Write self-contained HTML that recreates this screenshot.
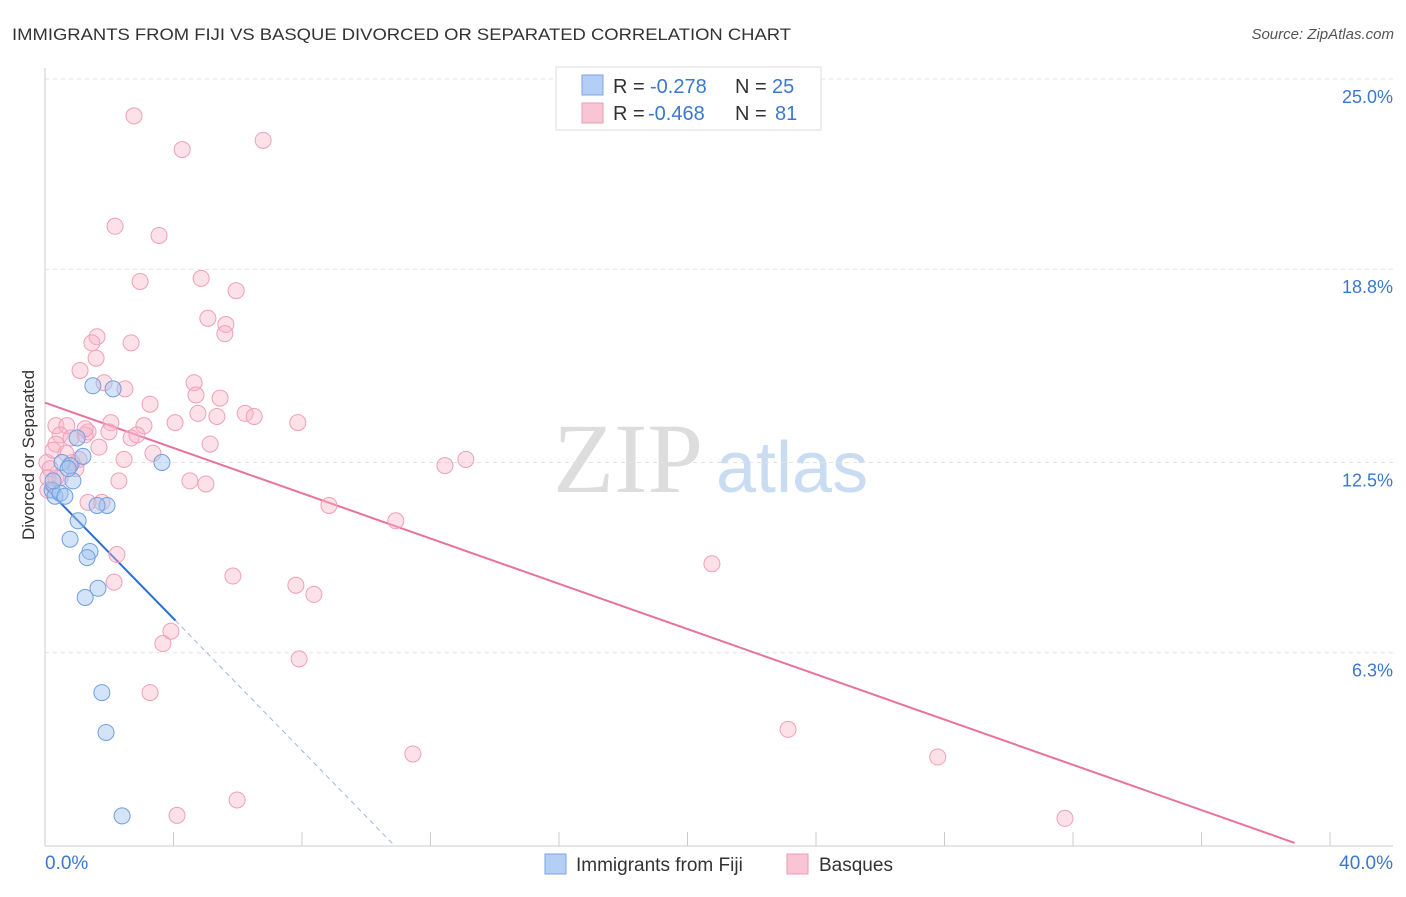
<!DOCTYPE html>
<html><head><meta charset="utf-8"><style>
body{margin:0;background:#fff;font-family:"Liberation Sans",sans-serif;}
</style></head><body>
<svg width="1406" height="892" xmlns="http://www.w3.org/2000/svg" font-family="Liberation Sans, sans-serif" id="chart">
<text x="12" y="40" font-size="17" fill="#333" textLength="779" lengthAdjust="spacingAndGlyphs">IMMIGRANTS FROM FIJI VS BASQUE DIVORCED OR SEPARATED CORRELATION CHART</text>
<text x="1394" y="39" font-size="15" fill="#555" font-style="italic" text-anchor="end">Source: ZipAtlas.com</text>
<text x="553" y="492" font-size="100" fill="#ddd" font-family="Liberation Serif, serif">ZIP</text>
<text x="716" y="492" font-size="72" fill="#c9dcf2">atlas</text>
<g id="grid"></g><g id="axes"></g><g id="lines"></g><g id="pts"></g>
<text x="34" y="455" font-size="17" fill="#333" text-anchor="middle" transform="rotate(-90 34 455)">Divorced or Separated</text>
<g>
<rect x="556" y="67" width="265" height="63" fill="#fff" stroke="#ddd"/>
<rect x="582" y="75" width="21" height="20" fill="#b3cff5" stroke="#7aa6e0"/>
<rect x="582" y="103" width="21" height="20" fill="#f9c5d4" stroke="#ec9ab3"/>
<text x="613" y="93" font-size="20" fill="#333">R =</text><text x="650" y="93" font-size="20" fill="#3a78d0">-0.278</text>
<text x="735" y="93" font-size="20" fill="#333">N =</text><text x="772" y="93" font-size="20" fill="#3a78d0">25</text>
<text x="613" y="120" font-size="20" fill="#333">R =</text><text x="648" y="120" font-size="20" fill="#3a78d0">-0.468</text>
<text x="735" y="120" font-size="20" fill="#333">N =</text><text x="775" y="120" font-size="20" fill="#3a78d0">81</text>
</g>
<g>
<rect x="545" y="854" width="21" height="20" fill="#b3cff5" stroke="#7aa6e0"/>
<text x="576" y="871" font-size="19" fill="#333">Immigrants from Fiji</text>
<rect x="787" y="854" width="21" height="20" fill="#f9c5d4" stroke="#ec9ab3"/>
<text x="819" y="871" font-size="19" fill="#333">Basques</text>
</g>
</svg>
<script>
const yTicks=[6.3,12.5,18.8,25.0];
const yTickLabels=["6.3%","12.5%","18.8%","25.0%"];
const fijiX=[0.22,0.31,0.47,0.62,0.53,0.78,1.00,0.87,1.18,1.49,2.12,1.93,1.62,1.03,0.78,1.40,1.31,1.65,1.25,3.64,1.77,1.90,2.40,0.25,0.72];
const fijiY=[11.6,11.4,11.5,11.4,12.5,12.4,13.3,11.9,12.7,15.0,14.9,11.1,11.1,10.6,10.0,9.6,9.4,8.4,8.1,12.5,5.0,3.7,0.98,11.9,12.3];
const basqX=[2.77,4.27,6.79,2.18,3.55,2.96,4.86,5.95,5.07,5.63,5.60,1.62,2.68,1.46,1.59,1.09,4.64,1.84,2.49,3.27,4.70,5.45,4.76,5.35,6.23,6.51,7.87,2.05,3.08,4.05,0.34,0.68,1.34,0.47,0.81,1.25,2.68,2.86,0.34,5.14,3.36,2.46,1.06,0.06,0.16,0.96,0.09,0.47,4.51,5.01,2.30,12.45,13.10,1.34,1.77,8.84,10.92,2.24,5.85,7.81,8.37,20.76,2.15,3.92,3.67,7.91,3.27,23.13,11.45,27.79,5.98,4.11,31.75,0.34,0.84,1.68,0.09,0.65,1.99,1.25,0.25];
const basqY=[23.8,22.7,23.0,20.2,19.9,18.4,18.5,18.1,17.2,17.0,16.7,16.6,16.4,16.4,15.9,15.5,15.1,15.1,14.9,14.4,14.7,14.6,14.1,14.0,14.1,14.0,13.8,13.8,13.7,13.8,13.7,13.7,13.5,13.4,13.3,13.4,13.3,13.4,13.1,13.1,12.8,12.6,12.6,12.5,12.3,12.3,12.0,12.0,11.9,11.8,11.9,12.4,12.6,11.2,11.2,11.1,10.6,9.5,8.8,8.5,8.2,9.2,8.6,7.0,6.6,6.1,5.0,3.8,3.0,2.9,1.5,1.0,0.9,12.0,12.5,13.0,11.6,12.8,13.5,13.6,12.9];
const fijiTrend=[0,11.7,4.06,7.35];
const fijiExt=[10.89,0];
const basqTrend=[0,14.45,38.9,0.1];
const X=v=>45+v/40*1285, Y=v=>846-v/25*767;
const NS="http://www.w3.org/2000/svg";
function mk(p,t,a){const e=document.createElementNS(NS,t);for(const k in a)e.setAttribute(k,a[k]);document.getElementById(p).appendChild(e);return e;}
yTicks.forEach((t,i)=>{
 const g=mk('grid','line',{x1:45,x2:1393,y1:Y(t),y2:Y(t),stroke:'#e2e2e2','stroke-dasharray':'4,4'});
 
 
 const l=mk('axes','text',{x:1393,y:Y(t)+24,'font-size':18,fill:'#3a78d0','text-anchor':'end'});
 l.textContent=yTickLabels[i];
 
 
});
mk('axes','line',{x1:45,x2:45,y1:68,y2:846,stroke:'#ccc'});
mk('axes','line',{x1:45,x2:1393,y1:846,y2:846,stroke:'#ccc'});
for(let v=4;v<=40;v+=4){const t=mk('axes','line',{x1:X(v),x2:X(v),y1:832,y2:846,stroke:'#ccc'});
 
 }
const x0=mk('axes','text',{x:45,y:869,'font-size':19,fill:'#3a78d0'});x0.textContent='0.0%';


const x1=mk('axes','text',{x:1393,y:869,'font-size':19,fill:'#3a78d0','text-anchor':'end'});x1.textContent='40.0%';


basqX.forEach((v,i)=>{const c=mk('pts','circle',{cx:X(v),cy:Y(basqY[i]),r:8,fill:'rgba(249,180,200,0.4)',stroke:'#eea0b8','stroke-width':1});
 
 });
fijiX.forEach((v,i)=>{const c=mk('pts','circle',{cx:X(v),cy:Y(fijiY[i]),r:8,fill:'rgba(160,195,240,0.45)',stroke:'#6f9fe0','stroke-width':1});
 
 });
const bt=mk('lines','line',{x1:X(basqTrend[0]),y1:Y(basqTrend[1]),x2:X(basqTrend[2]),y2:Y(basqTrend[3]),stroke:'#e8739a','stroke-width':2});


const fe=mk('lines','line',{x1:X(fijiTrend[2]),y1:Y(fijiTrend[3]),x2:X(fijiExt[0]),y2:Y(fijiExt[1]),stroke:'#9ab8e0','stroke-width':1,'stroke-dasharray':'5,4'});


const ft=mk('lines','line',{x1:X(fijiTrend[0]),y1:Y(fijiTrend[1]),x2:X(fijiTrend[2]),y2:Y(fijiTrend[3]),stroke:'#2c6fd6','stroke-width':2});


</script>
</body></html>
